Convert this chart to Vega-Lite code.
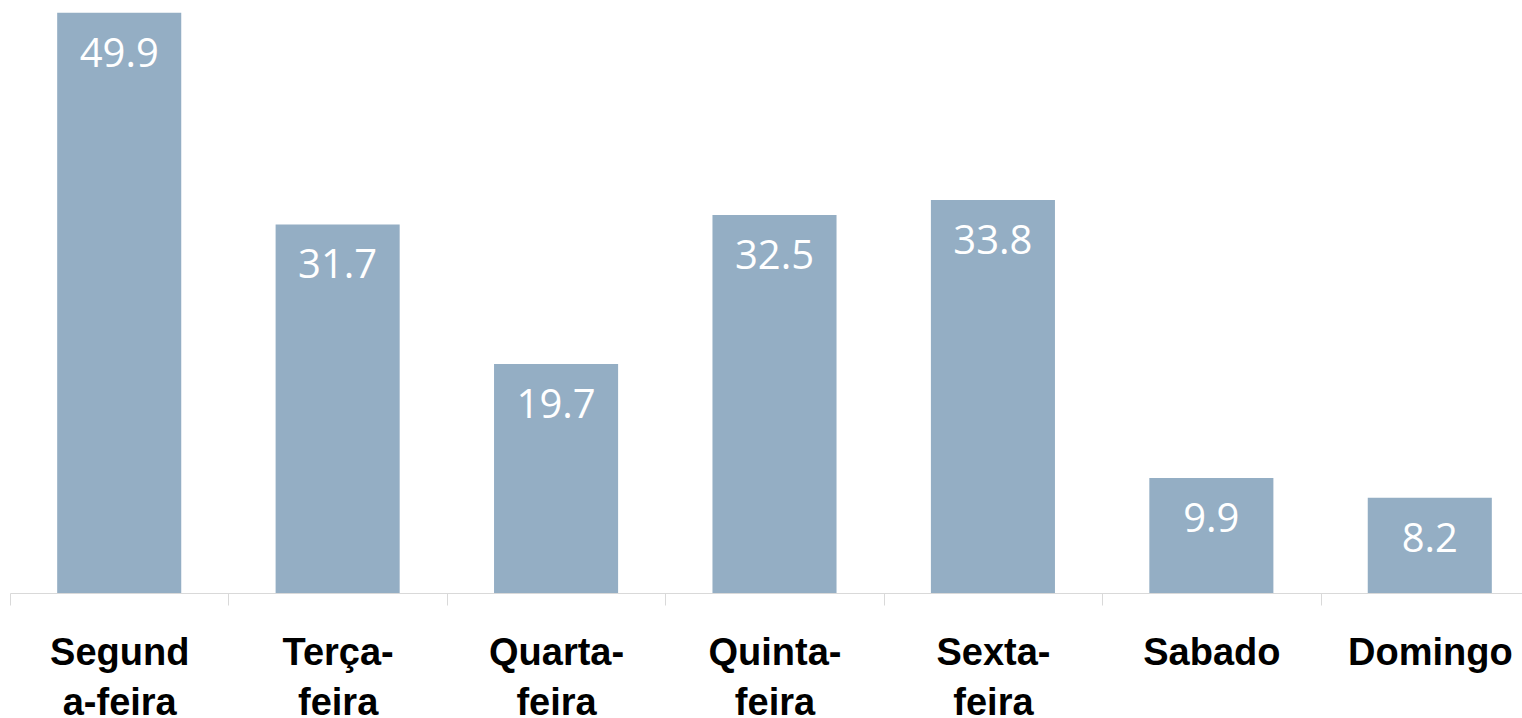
{
  "$schema": "https://vega.github.io/schema/vega-lite/v6.json",
  "width": 1529,
  "height": 593,
  "autosize": {"type": "none"},
  "padding": {"left": 10, "top": 0, "right": 0, "bottom": 125},
  "background": "white",
  "config": {"view": {"stroke": null}},
  "data": {
    "values": [
      {"day": "Segunda-feira", "value": 49.9},
      {"day": "Terça-feira", "value": 31.7},
      {"day": "Quarta-feira", "value": 19.7},
      {"day": "Quinta-feira", "value": 32.5},
      {"day": "Sexta-feira", "value": 33.8},
      {"day": "Sabado", "value": 9.9},
      {"day": "Domingo", "value": 8.2}
    ]
  },
  "encoding": {
    "x": {
      "field": "day",
      "type": "nominal",
      "sort": null,
      "scale": {"paddingInner": 0.432, "paddingOuter": 0.216},
      "axis": {
        "title": null,
        "labelAngle": 0,
        "labelFont": "Liberation Sans",
        "labelFontWeight": "bold",
        "labelFontSize": 38,
        "labelColor": "#000000",
        "labelLineHeight": 50,
        "labelBaseline": "top",
        "labelPadding": 29,
        "labelLimit": 0,
        "tickOffset": -109.2,
        "labelOffset": 109.2,
        "tickSize": 12,
        "tickColor": "#d9d9d9",
        "domainColor": "#d9d9d9",
        "labelExpr": "datum.value == 'Segunda-feira' ? ['Segund', 'a-feira'] : datum.value == 'Terça-feira' ? ['Terça-', 'feira'] : datum.value == 'Quarta-feira' ? ['Quarta-', 'feira'] : datum.value == 'Quinta-feira' ? ['Quinta-', 'feira'] : datum.value == 'Sexta-feira' ? ['Sexta-', 'feira'] : datum.value"
      }
    },
    "y": {
      "field": "value",
      "type": "quantitative",
      "scale": {"domain": [0, 51], "nice": false},
      "axis": null
    }
  },
  "layer": [
    {"mark": {"type": "bar", "color": "#94aec4"}},
    {
      "mark": {
        "type": "text",
        "color": "white",
        "font": "Open Sans",
        "fontSize": 40,
        "fontWeight": 500,
        "baseline": "alphabetic",
        "dy": 54
      },
      "encoding": {"text": {"field": "value", "type": "quantitative", "format": ".1f"}}
    }
  ]
}
